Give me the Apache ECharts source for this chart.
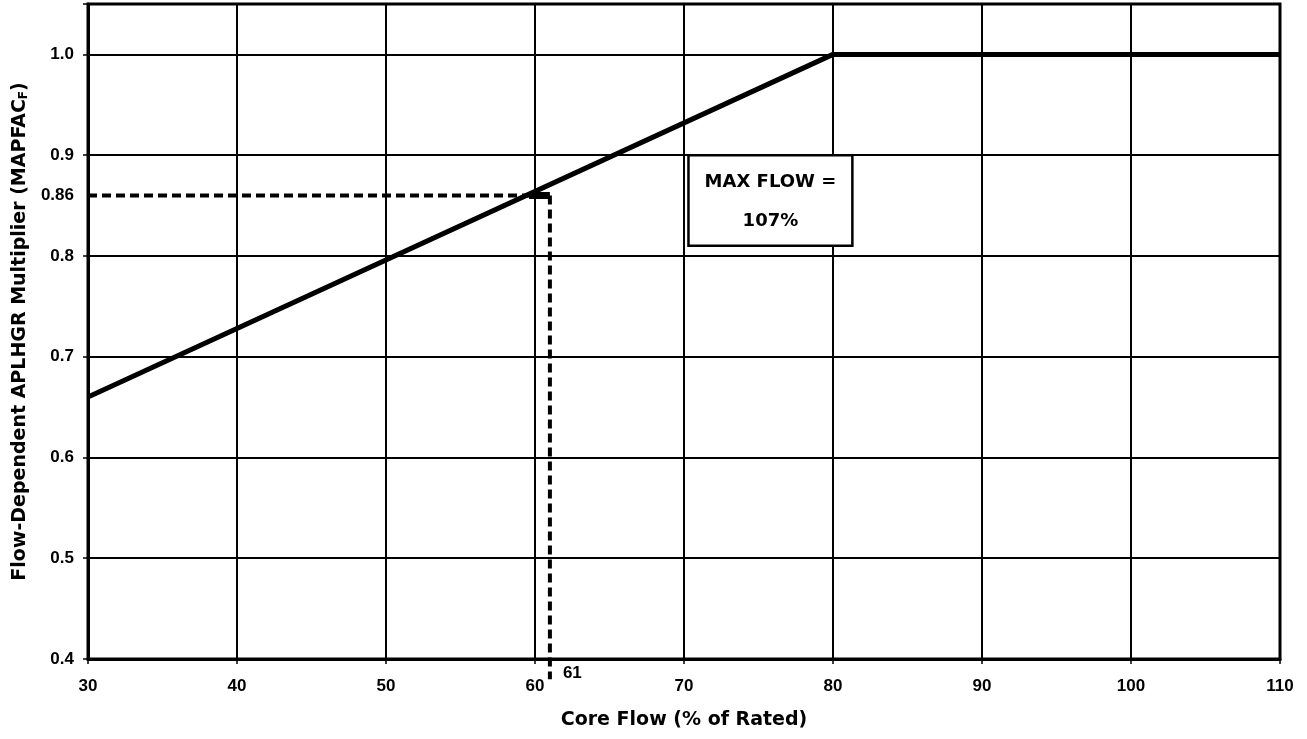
<!DOCTYPE html>
<html>
<head>
<meta charset="utf-8">
<script src="https://cdn.jsdelivr.net/npm/echarts@6/dist/echarts.min.js"></script>
<style>
  html, body { margin: 0; padding: 0; background: #fff; }
  #chart { width: 1307px; height: 739px; }
</style>
</head>
<body>
<div id="chart"></div>
<script>
// Flow-dependent multiplier curve: core flow (%) vs MAPFAC_F
const flowPoints = [30, 80, 110];
const multiplierPoints = [0.66, 1.0, 1.0];

// Reference reading drawn with dashed guides
const refFlow = 61;
const refMultiplier = 0.86;
const axisMinY = 0.4;

// Annotation box text
const boxLines = ['MAX FLOW =', '107%'];
const boxCorners = [[70.3, 0.9], [81.3, 0.81]];

const TICK_FONT = 'Liberation Sans, Arial, sans-serif';
const TITLE_FONT = 'DejaVu Sans, Verdana, sans-serif';

const chart = echarts.init(document.getElementById('chart'));

const curve = flowPoints.map((x, i) => [x, multiplierPoints[i]]);

chart.setOption({
  animation: false,
  backgroundColor: '#fff',
  grid: { left: 88, right: 27, top: 4, bottom: 80, show: true, borderColor: '#000', borderWidth: 3 },
  xAxis: {
    type: 'value', min: 30, max: 110, interval: 10,
    name: 'Core Flow (% of Rated)', nameLocation: 'middle', nameGap: 52,
    nameTextStyle: { fontFamily: TITLE_FONT, fontWeight: 'bold', fontSize: 19, color: '#000' },
    axisLine: { show: true, onZero: false, lineStyle: { color: '#000', width: 3 } },
    axisTick: { show: true, length: 5, lineStyle: { color: '#000', width: 1.5 } },
    axisLabel: { fontFamily: TICK_FONT, fontWeight: 'bold', fontSize: 17, color: '#000', margin: 19 },
    splitLine: { show: true, lineStyle: { color: '#000', width: 2 } }
  },
  yAxis: {
    type: 'value', min: axisMinY, max: 1.05, interval: 0.1,
    name: 'Flow-Dependent APLHGR Multiplier (MAPFAC{sub|F})', nameLocation: 'middle', nameGap: 58,
    nameTextStyle: {
      fontFamily: TITLE_FONT, fontWeight: 'bold', fontSize: 19, color: '#000',
      rich: { sub: { fontFamily: TITLE_FONT, fontWeight: 'bold', fontSize: 12, color: '#000', verticalAlign: 'bottom', padding: [7, 0, 0, 0] } }
    },
    axisLine: { show: true, onZero: false, lineStyle: { color: '#000', width: 3 } },
    axisTick: { show: true, length: 5, lineStyle: { color: '#000', width: 1.5 } },
    axisLabel: {
      fontFamily: TICK_FONT, fontWeight: 'bold', fontSize: 17, color: '#000', margin: 14,
      formatter: v => {
        const r = Math.round(v * 10) / 10;
        if (Math.abs(v - r) > 1e-6) return '';
        return r.toFixed(1);
      }
    },
    splitLine: { show: true, lineStyle: { color: '#000', width: 2 } }
  },
  series: [
    {
      type: 'line', data: curve, symbol: 'none',
      lineStyle: { color: '#000', width: 5 }, z: 5
    },
    {
      type: 'line', clip: false, symbol: 'none',
      data: [[30, refMultiplier], [refFlow, refMultiplier], [refFlow, axisMinY - 0.02]],
      lineStyle: { color: '#000', width: 4, type: [9, 5] }, z: 4
    },
    {
      // small block where the guide meets the curve
      type: 'line', symbol: 'none',
      data: [[59.6, refMultiplier], [refFlow, refMultiplier]],
      lineStyle: { color: '#000', width: 7 }, z: 4
    }
  ]
});

function drawAnnotations() {
  const pLabel = chart.convertToPixel({ gridIndex: 0 }, [30, refMultiplier]);
  const pFlow = chart.convertToPixel({ gridIndex: 0 }, [refFlow, axisMinY]);
  const b0 = chart.convertToPixel({ gridIndex: 0 }, boxCorners[0]);
  const b1 = chart.convertToPixel({ gridIndex: 0 }, boxCorners[1]);
  const bx = Math.min(b0[0], b1[0]), by = Math.min(b0[1], b1[1]);
  const bw = Math.abs(b1[0] - b0[0]), bh = Math.abs(b1[1] - b0[1]);
  chart.setOption({
    graphic: [
      {
        type: 'text', x: pLabel[0] - 14, y: pLabel[1],
        style: { text: refMultiplier.toFixed(2), fontFamily: TICK_FONT, fontWeight: 'bold', fontSize: 17, fill: '#000', align: 'right', verticalAlign: 'middle' }
      },
      {
        type: 'text', x: pFlow[0] + 13, y: pFlow[1] + 14,
        style: { text: String(refFlow), fontFamily: TICK_FONT, fontWeight: 'bold', fontSize: 17, fill: '#000', align: 'left', verticalAlign: 'middle' }
      },
      {
        type: 'rect', shape: { x: bx, y: by, width: bw, height: bh }, z: 10,
        style: { fill: '#fff', stroke: '#000', lineWidth: 2.5 }
      },
      {
        type: 'text', x: bx + bw / 2, y: by + bh * 0.3, z: 11,
        style: { text: boxLines[0], fontFamily: TITLE_FONT, fontWeight: 'bold', fontSize: 18, fill: '#000', align: 'center', verticalAlign: 'middle' }
      },
      {
        type: 'text', x: bx + bw / 2, y: by + bh * 0.73, z: 11,
        style: { text: boxLines[1], fontFamily: TITLE_FONT, fontWeight: 'bold', fontSize: 18, fill: '#000', align: 'center', verticalAlign: 'middle' }
      }
    ]
  });
}
drawAnnotations();
</script>
</body>
</html>
